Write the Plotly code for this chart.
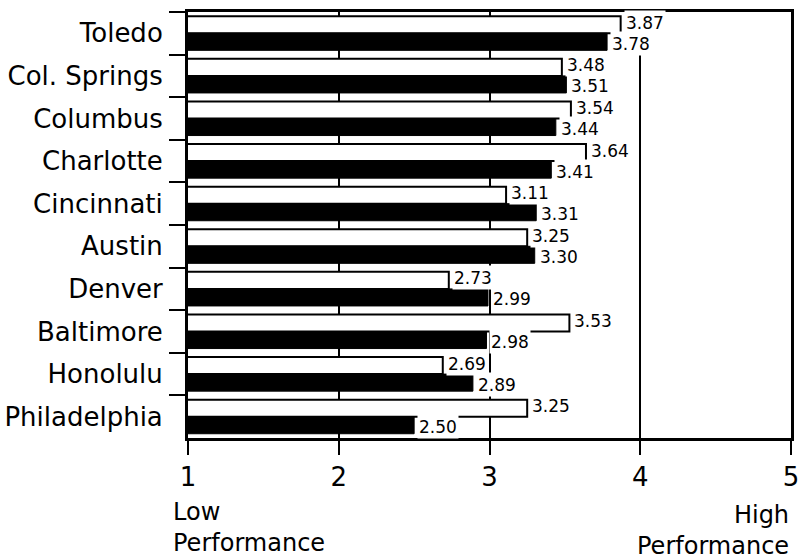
import plotly.graph_objects as go

# City performance scores, two ratings per city
cities = ["Toledo", "Col. Springs", "Columbus", "Charlotte", "Cincinnati",
          "Austin", "Denver", "Baltimore", "Honolulu", "Philadelphia"]
white_scores = [3.87, 3.48, 3.54, 3.64, 3.11, 3.25, 2.73, 3.53, 2.69, 3.25]
black_scores = [3.78, 3.51, 3.44, 3.41, 3.31, 3.30, 2.99, 2.98, 2.89, 2.50]
x_ticks = [1, 2, 3, 4, 5]

FONT = "DejaVu Sans"

fig = go.Figure()
fig.add_trace(go.Bar(
    y=cities, x=white_scores, orientation="h",
    marker=dict(color="white", line=dict(color="black", width=2)),
    hoverinfo="skip",
))
fig.add_trace(go.Bar(
    y=cities, x=black_scores, orientation="h",
    marker=dict(color="black", line=dict(color="black", width=1)),
    hoverinfo="skip",
))

# value labels on white boxes, just past the end of each bar
for c, v in zip(cities, white_scores):
    fig.add_annotation(x=v, y=c, text=f"{v:.2f}", showarrow=False,
                       xanchor="left", yanchor="middle", xshift=3, yshift=11,
                       bgcolor="white", borderpad=1, height=21,
                       font=dict(family=FONT, size=17, color="black"))
for c, v in zip(cities, black_scores):
    fig.add_annotation(x=v, y=c, text=f"{v:.2f}", showarrow=False,
                       xanchor="left", yanchor="middle", xshift=3, yshift=-10,
                       bgcolor="white", borderpad=1, height=21,
                       font=dict(family=FONT, size=17, color="black"))

# scale end captions
fig.add_annotation(xref="paper", yref="paper", x=-0.028, y=-0.136,
                   text="Low<br>Performance", showarrow=False,
                   xanchor="left", yanchor="top", align="left",
                   font=dict(family=FONT, size=24, color="black"))
fig.add_annotation(xref="paper", yref="paper", x=1.0, y=-0.143,
                   text="High<br>Performance", showarrow=False,
                   xanchor="right", yanchor="top", align="right",
                   font=dict(family=FONT, size=24, color="black"))

fig.update_layout(
    autosize=True,
    margin=dict(l=188, r=7, t=12, b=121),
    barmode="group", bargap=0.2, bargroupgap=0,
    showlegend=False,
    plot_bgcolor="white", paper_bgcolor="white",
    font=dict(family=FONT, color="black"),
)
fig.update_xaxes(
    range=[1, 5], tickvals=x_ticks, ticktext=[str(t) for t in x_ticks],
    ticks="outside", ticklen=14, tickwidth=2, tickcolor="black",
    showline=True, linewidth=3, linecolor="black", mirror=True,
    showgrid=True, gridcolor="black", gridwidth=2, zeroline=False,
    automargin=False, ticklabeloverflow="allow",
    tickfont=dict(family=FONT, size=26, color="black"),
)
fig.update_yaxes(
    type="category", categoryorder="array", categoryarray=cities,
    range=[9.5, -0.5], tickson="boundaries",
    ticks="outside", ticklen=16, tickwidth=2, tickcolor="black",
    showline=True, linewidth=3, linecolor="black", mirror=True,
    showgrid=False, zeroline=False, ticklabelstandoff=17,
    automargin=False,
    tickfont=dict(family=FONT, size=26, color="black"),
)

fig.write_html("out.html")
